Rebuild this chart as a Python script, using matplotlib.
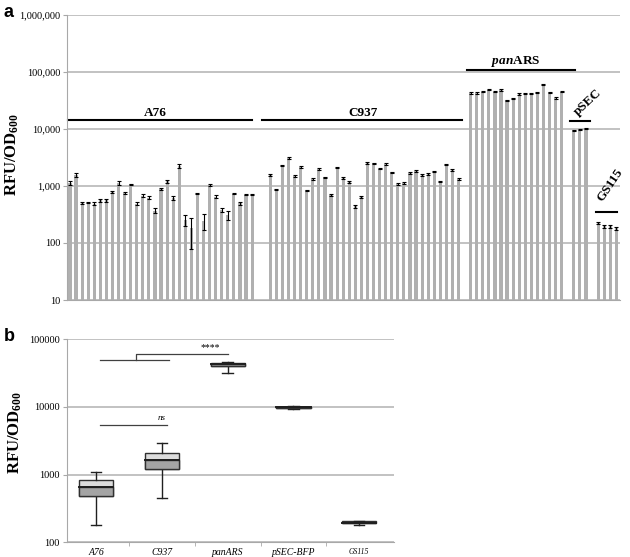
import numpy as np
import matplotlib.pyplot as plt
from matplotlib.patches import Rectangle

plt.rcParams['font.family'] = 'Liberation Serif'
plt.rcParams['mathtext.fontset'] = 'custom'
plt.rcParams['mathtext.bf'] = 'Liberation Serif:bold'
plt.rcParams['mathtext.rm'] = 'Liberation Serif:bold'
plt.rcParams['mathtext.it'] = 'Liberation Serif:bold:italic'

# ---- panel a data (RFU/OD600 per strain) ----
a76 = [1143, 1556, 499, 519, 492, 562, 562, 786, 1128, 745, 1069, 492, 678, 626, 371, 887,
       1206, 618, 2233, 253, 180, 745, 245, 1055, 652, 381, 306, 735, 499, 697, 697]
a76_err = [90, 110, 25, 10, 25, 35, 40, 20, 80, 30, 20, 25, 35, 30, 40, 40,
           90, 40, 200, 58, 100, 15, 75, 50, 30, 35, 51, 15, 30, 15, 15]
c937 = [1552, 864, 2312, 3098, 1490, 2135, 841, 1322, 1972, 1413, 689, 2107, 1396, 1189, 438, 644,
        2539, 2520, 1999, 2471, 1726, 1097, 1142, 1703, 1820, 1552, 1615, 1796, 1205, 2375, 1920, 1322]
c937_err = [70, 25, 70, 90, 40, 90, 25, 40, 80, 50, 25, 60, 50, 40, 20, 25,
            70, 50, 50, 90, 60, 50, 40, 50, 60, 60, 70, 60, 40, 70, 70, 40]
panars = [42800, 42800, 45200, 49000, 45200, 48300, 31800, 34500, 41100, 42200, 41700, 43400,
          60000, 44000, 35000, 45200]
panars_err = [900, 900, 900, 1000, 900, 1000, 700, 800, 900, 900, 900, 900, 1500, 900, 800, 900]
psec = [9480, 9730, 10280]
psec_err = [200, 200, 300]
gs115 = [224, 195, 195, 180]
gs115_err = [8, 12, 8, 8]

groups = [a76, c937, panars, psec, gs115]
errs = [a76_err, c937_err, panars_err, psec_err, gs115_err]
gaps = [2, 1, 1, 1, 0]

# ---- panel b data (box summaries) ----
box_names = ['A76', 'C937', 'panARS', 'pSEC-BFP', 'GS115']
box_min = [181, 450, 31500, 9480, 182]
box_q1 = [490, 1230, 40400, 9650, 191]
box_med = [650, 1630, 42700, 9850, 196]
box_q3 = [835, 2110, 45200, 10100, 207]
box_max = [1100, 2970, 45700, 10280, 209]

fig = plt.figure(figsize=(6.3, 5.57), dpi=100)
grid_c = '#b8b8b8'
spine_c = '#a8a8a8'

# ================= panel a =================
ax = fig.add_axes([0.1063, 0.4614, 0.8778, 0.5117])
pos = 0
for vals, err, gap in zip(groups, errs, gaps):
    x = pos + np.arange(len(vals))
    ax.bar(x, vals, width=0.52, color='#b0b0b0', zorder=2)
    ax.errorbar(x, vals, yerr=err, fmt='none', ecolor='black', elinewidth=0.8,
                capsize=1.3, capthick=0.8, zorder=3)
    pos += len(vals) + gap

ax.set_yscale('log')
ax.set_ylim(10, 1e6)
ax.set_xlim(-0.5, 90.6)
ax.set_yticks([10, 100, 1000, 1e4, 1e5, 1e6])
ax.set_yticklabels(['10', '100', '1,000', '10,000', '100,000', '1,000,000'], fontsize=7.5)
ax.minorticks_off()
ax.set_xticks([])
ax.yaxis.grid(True, color=grid_c, lw=1.2, zorder=0)
ax.set_axisbelow(True)
for s in ['top', 'right']:
    ax.spines[s].set_visible(False)
ax.spines['left'].set_color(spine_c)
ax.spines['bottom'].set_color(spine_c)
ax.tick_params(axis='y', length=3, color=spine_c, pad=2)

# group labels and lines
lab_kw = dict(fontsize=9.5, fontweight='bold', ha='center', va='bottom')
ax.plot([-0.3, 30], [14100, 14100], color='black', lw=1.5, clip_on=False)
ax.text(14, 14800, 'A76', **lab_kw)
ax.plot([31.6, 64.6], [14100, 14100], color='black', lw=1.5, clip_on=False)
ax.text(48.3, 14800, 'C937', **lab_kw)
ax.plot([65.4, 83.2], [108000, 108000], color='black', lw=1.5, clip_on=False)
ax.text(73.5, 113000, r'$\it{pan}$ARS', **lab_kw)
ax.plot([82.4, 85.7], [14000, 14000], color='black', lw=1.5, clip_on=False)
ax.text(85.3, 29800, 'pSEC', fontsize=9.5, fontweight='bold', ha='center', va='center',
        rotation=43)
ax.plot([86.7, 90.1], [354, 354], color='black', lw=1.5, clip_on=False)
ax.text(89, 1040, 'GS115', fontsize=9.5, fontweight='bold', ha='center', va='center',
        rotation=56)

fig.text(0.019, 0.722, r'RFU/OD$_{\mathbf{600}}$', rotation=90, fontsize=12,
         fontweight='bold', ha='center', va='center')
fig.text(0.006, 0.978, 'a', fontsize=13, fontweight='bold', family='Liberation Sans',
         ha='left', va='center')

# ================= panel b =================
bx = fig.add_axes([0.1058, 0.0264, 0.5196, 0.3644])
bstats = []
for i, nm in enumerate(box_names):
    bstats.append(dict(label=nm, whislo=box_min[i], q1=box_q1[i], med=box_med[i],
                       q3=box_q3[i], whishi=box_max[i], fliers=[]))
bpos = np.arange(len(box_names))
bw = 0.52
bx.bxp(bstats, positions=bpos, widths=bw, showfliers=False, patch_artist=True,
       boxprops=dict(facecolor='#dcdcdc', edgecolor='#303030', lw=1.0),
       medianprops=dict(color='#202020', lw=1.4),
       whiskerprops=dict(color='#202020', lw=1.0),
       capprops=dict(color='#202020', lw=1.0), capwidths=0.16)
for i in range(len(box_names)):
    bx.add_patch(Rectangle((bpos[i] - bw / 2, box_q1[i]), bw, box_med[i] - box_q1[i],
                           facecolor='#a4a4a4', edgecolor='#303030', lw=1.0, zorder=2.5))
    bx.plot([bpos[i] - bw / 2, bpos[i] + bw / 2], [box_med[i], box_med[i]],
            color='#202020', lw=1.4, zorder=3)

bx.set_yscale('log')
bx.set_ylim(100, 1e5)
bx.set_xlim(-0.45, 4.53)
bx.set_yticks([100, 1000, 1e4, 1e5])
bx.set_yticklabels(['100', '1000', '10000', '100000'], fontsize=7.5)
bx.minorticks_off()
bx.set_xticks(bpos)
bx.set_xticklabels(box_names, fontsize=7, style='italic')
bx.get_xticklabels()[-1].set_fontsize(5.5)
bx.set_xticks(bpos[:-1] + 0.5, minor=True)
bx.tick_params(axis='x', which='major', length=0, pad=4)
bx.tick_params(axis='x', which='minor', length=3, color=spine_c)
bx.tick_params(axis='y', length=3, color=spine_c, pad=2)
bx.yaxis.grid(True, color=grid_c, lw=1.2, zorder=0)
bx.set_axisbelow(True)
for s in ['top', 'right']:
    bx.spines[s].set_visible(False)
bx.spines['left'].set_color(spine_c)
bx.spines['bottom'].set_color(spine_c)

sig_c = '#404040'
bx.plot([0.05, 1.07], [5350, 5350], color=sig_c, lw=0.9)
bx.text(1.0, 5900, 'ns', fontsize=6.5, style='italic', ha='center', va='bottom')
bx.plot([0.05, 1.11], [49400, 49400], color=sig_c, lw=0.9)
bx.plot([0.6, 0.6, 2.0], [49400, 60600, 60600], color=sig_c, lw=0.9)
bx.text(1.73, 74400, '****', fontsize=7, ha='center', va='center')

fig.text(0.024, 0.223, r'RFU/OD$_{\mathbf{600}}$', rotation=90, fontsize=12,
         fontweight='bold', ha='center', va='center')
fig.text(0.006, 0.395, 'b', fontsize=13, fontweight='bold', family='Liberation Sans',
         ha='left', va='center')

fig.savefig('out.png', dpi=100)
